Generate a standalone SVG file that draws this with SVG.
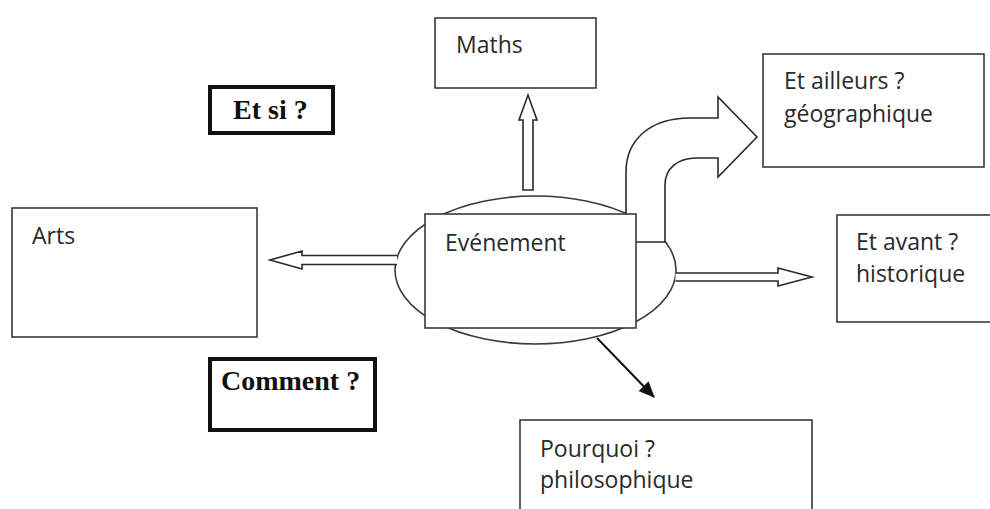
<svg xmlns="http://www.w3.org/2000/svg" width="990" height="509" viewBox="0 0 990 509">
<style>
.box{fill:#fff;stroke:#3a3a3a;stroke-width:1.6}
.tbox{fill:#fff;stroke:#111;stroke-width:4}
.lbl{font-family:"Open Sans","Noto Sans",sans-serif;font-size:23px;fill:#2a2a2a}
.bold{font-family:"Liberation Serif","Times New Roman",serif;font-weight:bold;font-size:28px;fill:#111}
.arr{fill:#fff;stroke:#2a2a2a;stroke-width:1.6;stroke-linejoin:miter}
</style>
<defs>
<marker id="ah" markerWidth="16" markerHeight="14" refX="15" refY="7" orient="auto" markerUnits="userSpaceOnUse" viewBox="0 0 16 14">
<path d="M0,0 L16,7 L0,14 Z" fill="#111"/>
</marker>
</defs>
<rect width="990" height="509" fill="#fff"/>

<g id="maths"><rect class="box" x="435" y="18" width="161" height="70"/><text class="lbl" x="456" y="53">Maths</text></g>
<g id="etsi"><rect class="tbox" x="210" y="87" width="123" height="46"/><text class="bold" x="233" y="119">Et si ?</text></g>
<g id="ailleurs"><rect class="box" x="763" y="54" width="221" height="113"/><text class="lbl" x="784" y="89">Et ailleurs ?</text><text class="lbl" x="784" y="122">géographique</text></g>
<g id="arts"><rect class="box" x="12" y="208" width="245" height="129"/><text class="lbl" x="32" y="244">Arts</text></g>
<g id="avant"><rect class="box" x="837" y="215" width="160" height="107"/><text class="lbl" x="856" y="250">Et avant ?</text><text class="lbl" x="856" y="282">historique</text></g>
<g id="comment"><rect class="tbox" x="210" y="359" width="165" height="71"/><text class="bold" x="221" y="390">Comment ?</text></g>
<g id="pourquoi"><rect class="box" x="520" y="420" width="292" height="100"/><text class="lbl" x="540" y="457">Pourquoi ?</text><text class="lbl" x="540" y="488">philosophique</text></g>

<g id="evenement-ellipse"><ellipse class="box" cx="535.5" cy="270" rx="140.5" ry="74"/></g>

<g id="connectors">
<path class="arr" d="M523,190 L523,120 L519,120 L528,95 L537,120 L533,120 L533,190 Z"/>
<path class="arr" d="M397,255.5 L302,255.5 L302,251 L270,260 L302,269 L302,264.5 L397,264.5"/>
<path class="arr" d="M675.5,273 L778,273 L778,268 L812,277 L778,286 L778,281 L675.5,281"/>
<path class="arr" d="M626,213 L626,172 C626,140 650,118 690,118 L718,118 L718,97 L757,137 L718,177 L718,158 L697,158 C678,158 665,168 665,185 L665,242 L626,242 Z"/>
<line x1="597" y1="338" x2="654" y2="397" stroke="#111" stroke-width="2" marker-end="url(#ah)"/>
</g>

<g id="evenement"><rect class="box" x="425" y="214" width="211" height="114"/><text class="lbl" x="445" y="251">Evénement</text></g>
</svg>
